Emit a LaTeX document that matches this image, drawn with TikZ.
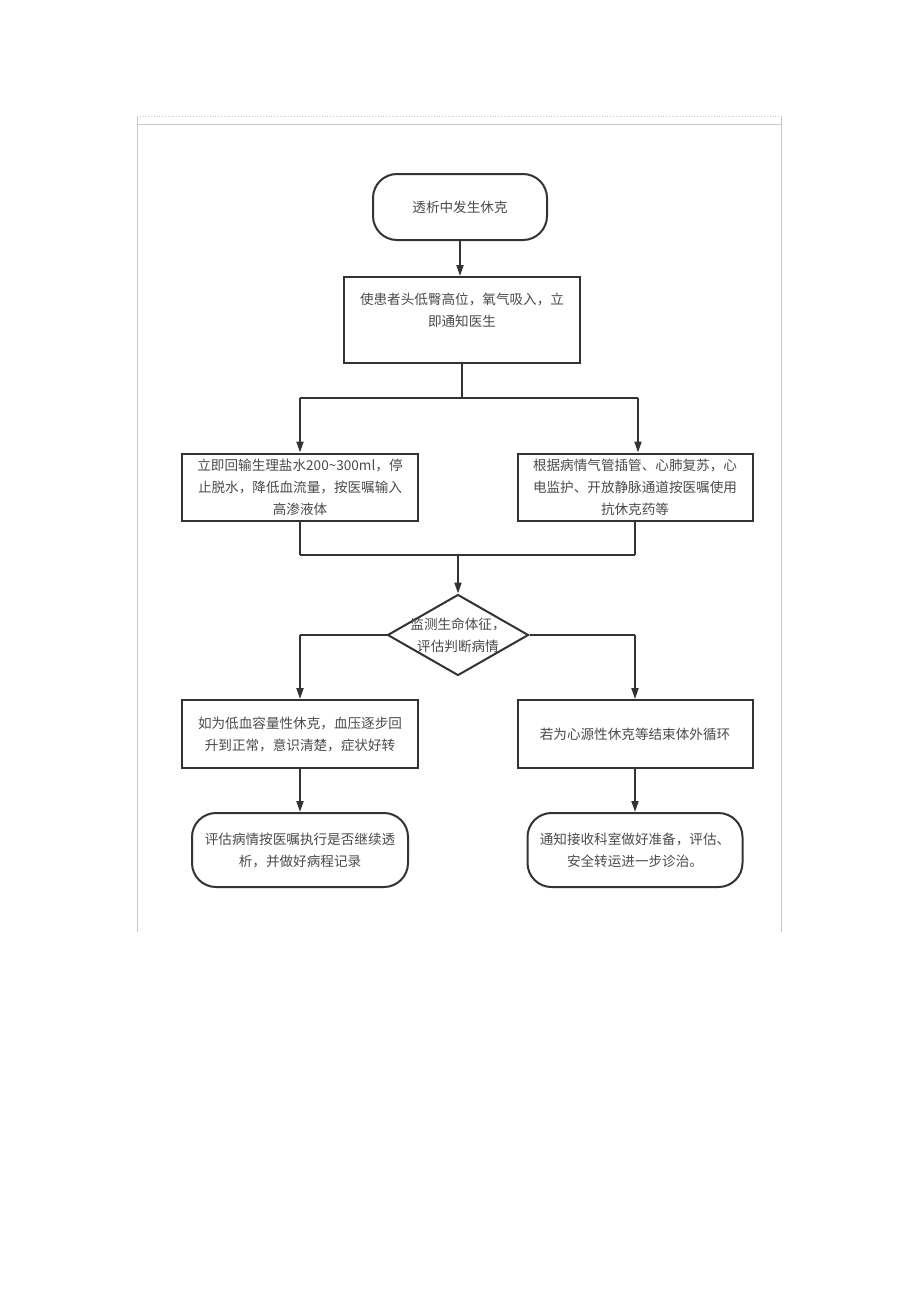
\documentclass[tikz,border=0pt]{standalone}
\usepackage{fontspec}
\newfontfamily\cjk{Noto Sans CJK SC}
\usetikzlibrary{shapes.geometric,arrows.meta}
\definecolor{ln}{HTML}{333333}
\definecolor{tx}{HTML}{4A4A4A}
\definecolor{fr}{HTML}{C8C8C8}
\begin{document}
\begin{tikzpicture}[x=1pt,y=-1pt,
  every node/.style={font=\cjk\fontsize{13.6}{22}\selectfont, text=tx, align=center, inner sep=0pt},
  boxst/.style={draw=ln, line width=2pt, rectangle},
  termst/.style={draw=ln, line width=2pt, rectangle, rounded corners=24pt},
  decst/.style={draw=ln, line width=2pt, diamond, aspect=1.74},
  con/.style={draw=ln, line width=2pt},
  arr/.style={con, -{Triangle[length=11pt,width=7pt]}}
]
\useasboundingbox (0,0) rectangle (920,1303);
% frame
\draw[fr, line width=0.8pt, dotted] (137,116) -- (781,116);
\draw[fr, line width=1pt] (137,125) -- (781,125);
\draw[fr, line width=1pt] (137,116) -- (137,932);
\draw[fr, line width=1pt] (781,116) -- (781,932);

% nodes
\node[termst, minimum width=174pt, minimum height=66pt] (start) at (460,207) {透析中发生休克};
\node[boxst, minimum width=236pt, minimum height=86pt] (b2) at (462,320) {使患者头低臀高位，氧气吸入，立\\即通知医生\\[-2pt]\mbox{}};
\node[boxst, minimum width=236pt, minimum height=67pt] (l1) at (300,487) {立即回输生理盐水200\textasciitilde300ml，停\\止脱水，降低血流量，按医嘱输入\\高渗液体};
\node[boxst, minimum width=235pt, minimum height=67pt] (r1) at (635,487) {根据病情气管插管、心肺复苏，心\\电监护、开放静脉通道按医嘱使用\\抗休克药等};
\node[decst, minimum width=141pt, minimum height=81pt] (dec) at (458,635) {};
\node (dectext) at (458,635) {监测生命体征，\\评估判断病情};
\node[boxst, minimum width=236pt, minimum height=68pt] (l2) at (300,734) {如为低血容量性休克，血压逐步回\\升到正常，意识清楚，症状好转};
\node[boxst, minimum width=235pt, minimum height=68pt] (r2) at (635,734) {若为心源性休克等结束体外循环};
\node[termst, minimum width=216pt, minimum height=74pt] (l3) at (300,850) {评估病情按医嘱执行是否继续透\\析，并做好病程记录};
\node[termst, minimum width=215pt, minimum height=74pt] (r3) at (635,850) {通知接收科室做好准备，评估、\\安全转运进一步诊治。};

% helper coordinates
\coordinate (split) at (462,398);
\coordinate (splitL) at (300,398);
\coordinate (splitR) at (638,398);
\coordinate (join) at (458,555);
\coordinate (joinL) at (300,555);
\coordinate (joinR) at (635,555);
\coordinate (decL) at (300,635);
\coordinate (decR) at (635,635);

% connectors
\draw[arr] (start.south) -- (start.south |- b2.north);
\draw[con] (b2.south) -- (split);
\draw[con] (splitL) -- (splitR);
\draw[arr] (splitL) -- (splitL |- l1.north);
\draw[arr] (splitR) -- (splitR |- r1.north);
\draw[con] (l1.south) -- (joinL);
\draw[con] (r1.south) -- (joinR);
\draw[con] (joinL) -- (joinR);
\draw[arr] (join) -- (dec.north);
\draw[con] (dec.west) -- (decL);
\draw[arr] (decL) -- (l2.north);
\draw[con] (dec.east) -- (decR);
\draw[arr] (decR) -- (r2.north);
\draw[arr] (l2.south) -- (l3.north);
\draw[arr] (r2.south) -- (r3.north);
\end{tikzpicture}
\end{document}
